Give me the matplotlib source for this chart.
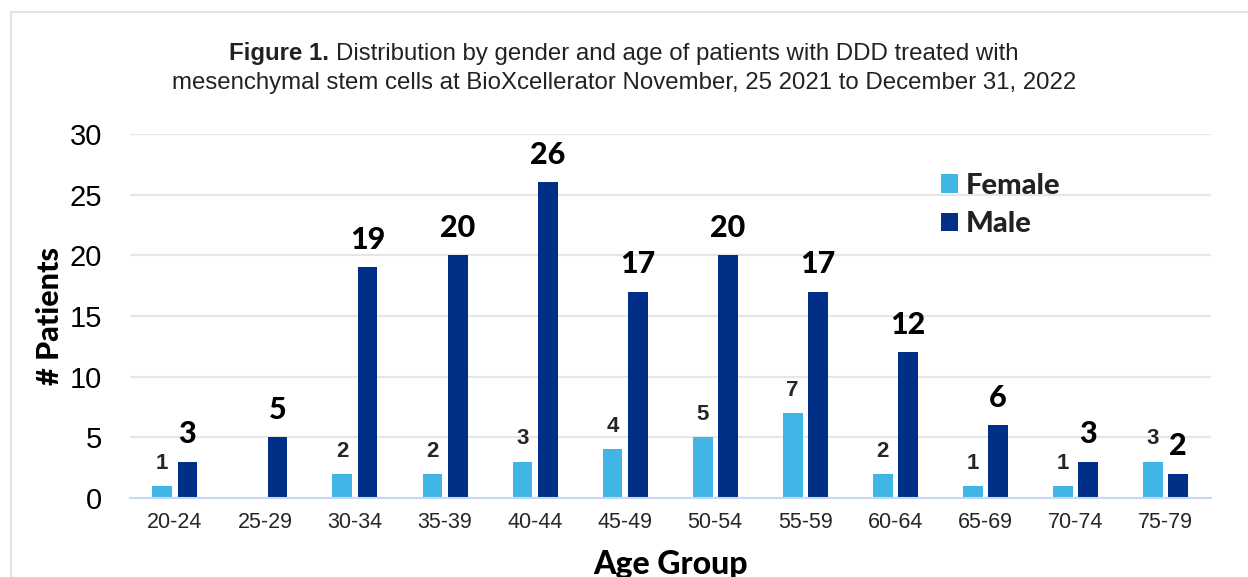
import numpy as np
import matplotlib.pyplot as plt
from matplotlib.patches import Rectangle

groups = ["20-24", "25-29", "30-34", "35-39", "40-44", "45-49",
          "50-54", "55-59", "60-64", "65-69", "70-74", "75-79"]
female = [1, 0, 2, 2, 3, 4, 5, 7, 2, 1, 1, 3]
male = [3, 5, 19, 20, 26, 17, 20, 17, 12, 6, 3, 2]

c_female = "#41B6E6"
c_male = "#002F87"

fig = plt.figure(figsize=(12.48, 5.77), dpi=100)
ax = fig.add_axes([0.104, 0.137, 0.866, 0.631])

# light frame around the figure
fig.patches.append(Rectangle((0.009, -0.05), 1.05, 1.029, transform=fig.transFigure,
                             fill=False, edgecolor="#E3E3E3", linewidth=1.5))

x = np.arange(len(groups))
w = 0.22
off = 0.14
ax.bar(x - off, female, w, color=c_female, label="Female", zorder=3)
ax.bar(x + off, male, w, color=c_male, label="Male", zorder=3)

for i in range(len(groups)):
    if female[i] > 0:
        ax.text(x[i] - off, female[i] + 1.0, str(female[i]), ha="center", va="bottom",
                fontsize=16, fontweight="bold", color="#262626", family="Liberation Sans")
    ax.text(x[i] + off, male[i] + 1.1, str(male[i]), ha="center", va="bottom",
            fontsize=22, fontweight=900, color="black", family="Lato")

ax.set_xlim(-0.5, len(groups) - 0.5)
ax.set_ylim(0, 30)
ax.set_yticks(range(0, 31, 5))
ax.set_xticks(x)
ax.set_xticklabels(groups, fontsize=15.5, color="#262626", family="Liberation Sans")
for t in ax.get_yticklabels():
    t.set_fontsize(21)
    t.set_family("Liberation Sans")
ax.tick_params(axis="both", length=0)
ax.tick_params(axis="x", pad=10)
ax.tick_params(axis="y", pad=20)
ax.grid(axis="y", color="#E6E6E6", linewidth=1.5, zorder=0)
for s in ["top", "right", "left"]:
    ax.spines[s].set_visible(False)
ax.spines["bottom"].set_color("#C9D7F2")
ax.spines["bottom"].set_linewidth(1.5)
ax.spines["bottom"].set_zorder(4)

ax.set_ylabel("# Patients", fontsize=22, fontweight=900, family="Lato", labelpad=4)
ax.set_xlabel("Age Group", fontsize=23, fontweight=900, family="Lato", labelpad=12)

leg = ax.legend(loc="upper left", bbox_to_anchor=(0.726, 0.965), frameon=False,
                prop={"family": "Lato", "weight": 900, "size": 21},
                handlelength=0.6, handleheight=0.6, handletextpad=0.25, labelspacing=0.42)
for t in leg.get_texts():
    t.set_color("#222222")

# title: bold lead-in followed by regular text, centred as a whole
r = fig.canvas.get_renderer()
t1 = fig.text(0, 0.907, "Figure 1. ", ha="left", va="center", fontsize=17.3,
              fontweight="bold", color="#222222", family="Liberation Sans")
t2 = fig.text(0, 0.907, "Distribution by gender and age of patients with DDD treated with",
              ha="left", va="center", fontsize=17.3, color="#222222", family="Liberation Sans")
w1 = t1.get_window_extent(r).width
w2 = t2.get_window_extent(r).width
W = fig.bbox.width
x0 = (W - w1 - w2) / 2 / W
t1.set_x(x0)
t2.set_x(x0 + w1 / W)
fig.text(0.5, 0.856, "mesenchymal stem cells at BioXcellerator November, 25 2021 to December 31, 2022",
         ha="center", va="center", fontsize=17.3, color="#222222", family="Liberation Sans")

fig.savefig("out.png", dpi=100)
